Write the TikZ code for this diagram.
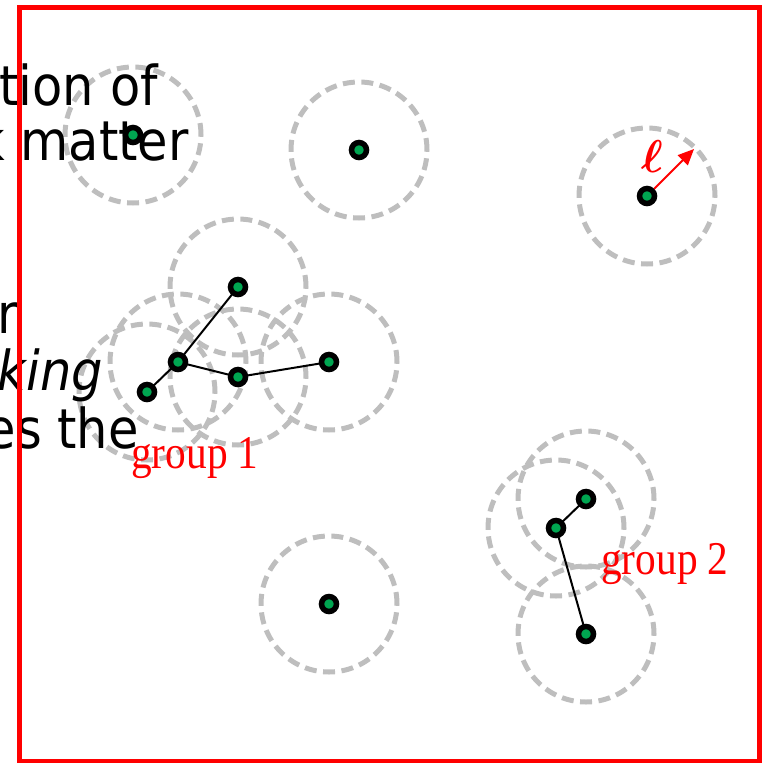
\documentclass[tikz,border=0pt]{standalone}
\usepackage{amsmath}
\usepackage{fontspec}
\setmainfont{Liberation Serif}
\newfontfamily\slidefont[FakeStretch=0.9]{DejaVu Sans}
\newfontfamily\groupfont[FakeStretch=0.88]{Liberation Serif}
\usepackage{tikz}
\usetikzlibrary{arrows.meta}
\definecolor{dmgreen}{RGB}{0,166,81}
\definecolor{halogray}{RGB}{190,190,190}

\begin{document}
\begin{tikzpicture}[
    x=1pt, y=-1pt,
    halo/.style={halogray, line width=5pt, dash pattern=on 12pt off 6.5pt},
    frame/.style={red, line width=5pt},
    link/.style={black, line width=2pt},
    particle/.style={circle, fill=dmgreen, draw=black, line width=5.5pt, inner sep=0pt, minimum size=15pt},
    slidetext/.style={anchor=base east, inner sep=0pt, font=\slidefont\fontsize{55}{66}\selectfont},
    grouplabel/.style={red, anchor=base west, inner sep=0pt, font=\groupfont\fontsize{47}{56}\selectfont},
    lenarrow/.style={-{Triangle[length=16pt,width=14pt]}, red, line width=2pt}
]
    \useasboundingbox (0,0) rectangle (769,763);
    \clip (0,0) rectangle (769,763);

    % Particle positions
    \coordinate (c1) at (133,135);
    \coordinate (c2) at (359,150);
    \coordinate (c3) at (647,196);
    \coordinate (c4) at (238,287);
    \coordinate (c5) at (178,362);
    \coordinate (c6) at (147,392);
    \coordinate (c7) at (238,377);
    \coordinate (c8) at (329,362);
    \coordinate (c9) at (586,499);
    \coordinate (c10) at (556,528);
    \coordinate (c11) at (586,634);
    \coordinate (c12) at (329,604);

    % Linking-length spheres
    \foreach \c in {c1,c2,c3,c4,c5,c6,c7,c8,c9,c10,c11,c12}
        \draw[halo] (\c) circle[radius=68pt];

    % Text behind the frame (cut off on the left)
    \node[slidetext] (t1) at (158,105) {tion of};
    \node[slidetext] (t2) at (189,160) {k matter};
    \node[slidetext] (t3) at (18,333) {r};
    \node[slidetext, font=\slidefont\itshape\fontsize{55}{66}\selectfont] (t4) at (103,390) {king};
    \node[slidetext] (t5) at (139,448) {es the};

    % Frame
    \draw[frame] (19,7) rectangle (759,761);

    % Links
    \draw[link] (c4) -- (c5);
    \draw[link] (c5) -- (c6);
    \draw[link] (c5) -- (c7);
    \draw[link] (c7) -- (c8);
    \draw[link] (c9) -- (c10);
    \draw[link] (c10) -- (c11);

    % Particles
    \foreach \c in {c1,c2,c3,c4,c5,c6,c7,c8,c9,c10,c11,c12}
        \node[particle] (p\c) at (\c) {};

    % Linking length
    \coordinate (tip) at (694,149);
    \draw[lenarrow] (pc3) -- (tip);
    \node[red, scale=4.6] (ell) at (652,157) {$\boldsymbol{\ell}$};

    % Group labels
    \node[grouplabel] (g1) at (131,468) {group 1};
    \node[grouplabel] (g2) at (601,574) {group 2};
\end{tikzpicture}
\end{document}
